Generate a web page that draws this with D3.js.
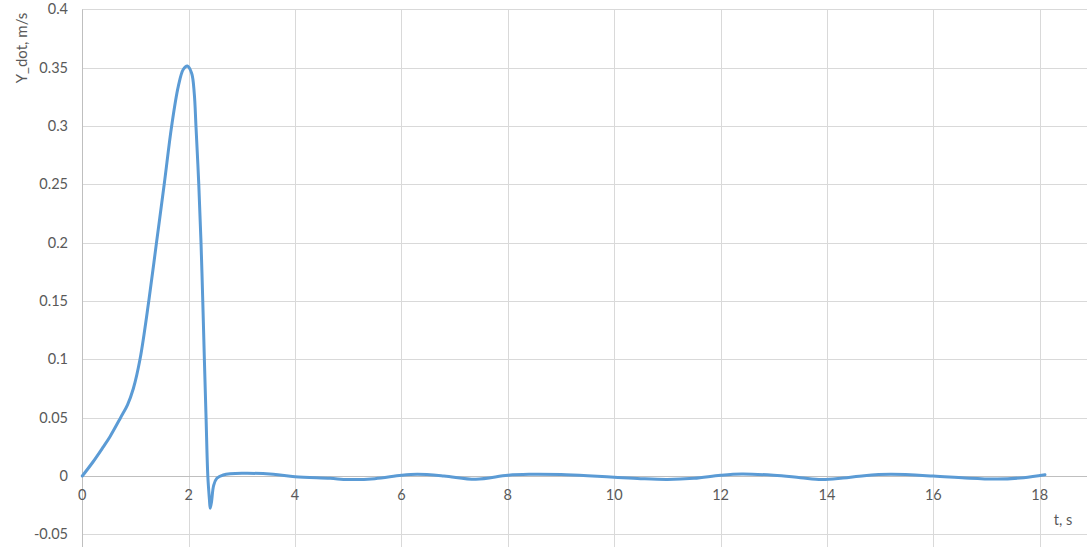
<!DOCTYPE html>
<html><head><meta charset="utf-8">
<script src="https://cdn.jsdelivr.net/npm/d3@7"></script>
<style>
html,body{margin:0;padding:0;background:#fff;}
svg{display:block;}
text{font-family:Lato,"Open Sans",sans-serif;fill:#595959;}
</style></head>
<body>
<svg id="chart" width="1087" height="547"></svg>
<script>
const timeS = [0,0.2,0.395,0.52,0.72,0.85,0.96,1.085,1.25,1.395,1.54,1.68,1.805,1.90,1.975,2.056,2.105,2.137,2.19,2.232,2.265,2.295,2.327,2.36,2.39,2.405,2.43,2.47,2.53,2.65,3.03,3.59,4.0,4.66,5.0,5.5,6.0,6.3,6.8,7.4,8.0,8.4,9.0,9.5,10.0,10.5,11.0,11.5,12.0,12.4,13.0,13.5,13.9,14.3,14.7,15.2,16.0,16.6,17.2,17.7,18.1];
const yDot = [0,0.012,0.025,0.0337,0.05,0.061,0.075,0.1,0.15,0.2,0.25,0.3,0.334,0.3486,0.3514,0.3452,0.328,0.3,0.25,0.2,0.15,0.1,0.05,0,-0.02,-0.0277,-0.022,-0.008,-0.002,0.0009,0.0023,0.0014,-0.0006,-0.002,-0.003,-0.0023,0.0006,0.0014,0,-0.0028,0.0006,0.0014,0.0012,0.0003,-0.001,-0.0023,-0.003,-0.002,0.0006,0.0017,0.0006,-0.0014,-0.003,-0.0017,0.0003,0.0014,0,-0.0017,-0.0026,-0.0014,0.0011];
const xTicks = [0,2,4,6,8,10,12,14,16,18];
const yTicks = [-0.05,0,0.05,0.1,0.15,0.2,0.25,0.3,0.35,0.4];
const yTickLabels = ["-0.05","0","0.05","0.1","0.15","0.2","0.25","0.3","0.35","0.4"];

const svg = d3.select("#chart");
const x = d3.scaleLinear().domain([0, 18.89]).range([82.3, 1087]);
const y = d3.scaleLinear().domain([0, 0.4]).range([476, 9.3]);
const yBottom = 547;

svg.append("g").selectAll("line").data(yTicks.filter(d=>d!==0)).join("line")
  .attr("x1", x(0)).attr("x2", 1087)
  .attr("y1", d=>Math.round(y(d))+0.5).attr("y2", d=>Math.round(y(d))+0.5)
  .attr("stroke", "#d9d9d9").attr("stroke-width", 1);
svg.append("g").selectAll("line").data(xTicks.filter(d=>d!==0)).join("line")
  .attr("x1", d=>Math.round(x(d))+0.5).attr("x2", d=>Math.round(x(d))+0.5)
  .attr("y1", y(0.4)).attr("y2", yBottom)
  .attr("stroke", "#d9d9d9").attr("stroke-width", 1);
svg.append("line").attr("x1", x(0)).attr("x2", 1087)
  .attr("y1", Math.round(y(0))+0.5).attr("y2", Math.round(y(0))+0.5)
  .attr("stroke", "#bfbfbf");
svg.append("line").attr("x1", Math.round(x(0))+0.5).attr("x2", Math.round(x(0))+0.5)
  .attr("y1", y(0.4)).attr("y2", yBottom)
  .attr("stroke", "#bfbfbf");

svg.append("g").selectAll("text").data(yTicks).join("text")
  .attr("x", 68).attr("y", d=>y(d)).attr("dy","0.35em")
  .attr("text-anchor","end").attr("font-size", 14.5)
  .text((d,i)=>yTickLabels[i]);
svg.append("g").selectAll("text").data(xTicks).join("text")
  .attr("x", d=>x(d)).attr("y", 500)
  .attr("text-anchor","middle").attr("font-size", 14.5)
  .text(d=>d);

svg.append("text").attr("x", 1063).attr("y", 525).attr("text-anchor","middle")
  .attr("font-size", 14.5).text("t, s");
svg.append("text").attr("transform","translate(27,48) rotate(-90)")
  .attr("text-anchor","middle").attr("font-size", 15).text("Y_dot, m/s");

const line = d3.line().x((d,i)=>x(timeS[i])).y(d=>y(d)).curve(d3.curveCatmullRom.alpha(0.5));
svg.append("path").datum(yDot).attr("d", line)
  .attr("fill","none").attr("stroke","#5b9bd5").attr("stroke-width",3)
  .attr("stroke-linejoin","round").attr("stroke-linecap","round");
</script>
</body></html>
